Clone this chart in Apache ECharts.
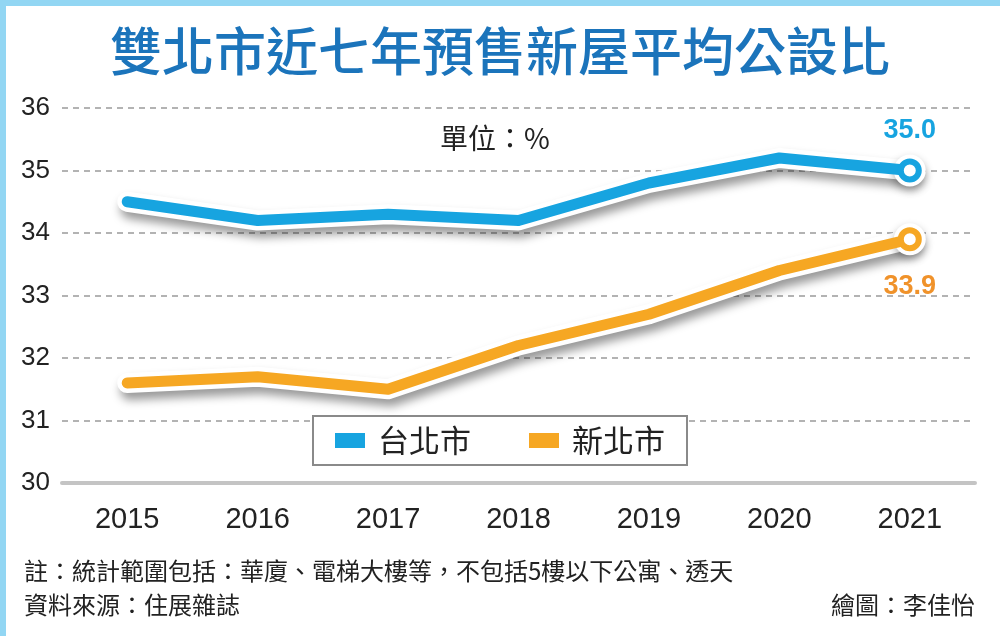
<!DOCTYPE html>
<html>
<head>
<meta charset="utf-8">
<script src="https://cdn.jsdelivr.net/npm/echarts@6/dist/echarts.min.js"></script>
<style>
  html, body { margin: 0; padding: 0; background: #fff; }
  #main { width: 1000px; height: 636px; }
</style>
</head>
<body>
<div id="main"></div>
<script>
var years = ["2015", "2016", "2017", "2018", "2019", "2020", "2021"];
var taipei = [34.5, 34.2, 34.3, 34.2, 34.8, 35.2, 35.0];
var newTaipei = [31.6, 31.7, 31.5, 32.2, 32.7, 33.4, 33.9];
var yTicks = [30, 31, 32, 33, 34, 35, 36];

var BLUE = "#17a4e0";
var ORANGE = "#f6a723";
var LABEL_ORANGE = "#f0922a";
var CJK = "'Noto Sans CJK TC', 'Noto Sans', sans-serif";
var NUM = "'Liberation Sans', Arial, sans-serif";

var chartDom = document.getElementById("main");
var myChart = echarts.init(chartDom);
var last = years.length - 1;

// white outline + soft shadow drawn under each line
function underlay(data) {
  return {
    type: "line",
    data: data,
    silent: true,
    z: 1,
    symbol: function (v, p) { return p.dataIndex === last ? "circle" : "none"; },
    symbolSize: 32,
    itemStyle: { color: "#fff", shadowColor: "rgba(0,0,0,0.3)", shadowBlur: 8, shadowOffsetY: 4 },
    lineStyle: {
      color: "#fff", width: 20, cap: "round", join: "round",
      shadowColor: "rgba(0,0,0,0.4)", shadowBlur: 10, shadowOffsetX: 3, shadowOffsetY: 7
    },
    emphasis: { disabled: true }
  };
}

function mainLine(name, data, color, labelColor, pos) {
  return {
    name: name,
    type: "line",
    data: data,
    z: 3,
    symbol: function (v, p) { return p.dataIndex === last ? "circle" : "none"; },
    symbolSize: 18,
    itemStyle: { color: "#fff", borderColor: color, borderWidth: 6 },
    lineStyle: { color: color, width: 11, cap: "round", join: "round" },
    label: {
      show: true,
      position: pos,
      distance: pos === "top" ? 14 : 22,
      color: labelColor,
      fontFamily: NUM,
      fontWeight: "bold",
      fontSize: 27,
      formatter: function (p) { return p.dataIndex === last ? p.value.toFixed(1) : ""; }
    },
    emphasis: { disabled: true }
  };
}

var option = {
  backgroundColor: "#fff",
  animation: false,
  title: {
    text: "雙北市近七年預售新屋平均公設比",
    left: "center",
    top: 20,
    textStyle: { color: "#1b74bb", fontFamily: CJK, fontWeight: 500, fontSize: 52 }
  },
  legend: {
    data: [
      { name: "台北市", itemStyle: { color: BLUE, borderWidth: 0 } },
      { name: "新北市", itemStyle: { color: ORANGE, borderWidth: 0 } }
    ],
    left: 313,
    top: 416,
    padding: [9, 22],
    itemGap: 58,
    itemWidth: 30,
    itemHeight: 15,
    icon: "rect",
    backgroundColor: "#fff",
    borderColor: "#8a8a8a",
    borderWidth: 2,
    borderRadius: 0,
    z: 10,
    textStyle: { fontFamily: CJK, fontSize: 31, color: "#222", padding: [0, 0, 0, 8] }
  },
  grid: { left: 62, right: 25, top: 108, bottom: 153 },
  xAxis: {
    type: "category",
    data: years,
    boundaryGap: true,
    axisLine: { lineStyle: { color: "#c4c4c4", width: 4 } },
    axisTick: { alignWithLabel: true, length: 9, lineStyle: { color: "#b5b5b5", width: 2 } },
    axisLabel: { margin: 22, fontFamily: NUM, fontSize: 29, color: "#222" }
  },
  yAxis: {
    type: "value",
    min: yTicks[0],
    max: yTicks[yTicks.length - 1],
    interval: 1,
    axisLine: { show: false },
    axisTick: { show: false },
    axisLabel: { margin: 12, fontFamily: NUM, fontSize: 26, color: "#222" },
    splitLine: { lineStyle: { color: "#9a9a9a", type: [6, 5], width: 1.5 } }
  },
  graphic: [
    {
      type: "rect",
      left: 0, top: 0,
      shape: { width: 1000, height: 636 },
      style: { fill: "none", stroke: "#92d6f3", lineWidth: 6 },
      z: 100
    },
    {
      type: "text",
      left: 440, top: 124,
      style: { text: "單位：%", fontFamily: CJK, fontSize: 28, fill: "#222" }
    },
    {
      type: "text",
      left: 24, top: 559,
      style: { text: "註：統計範圍包括：華廈、電梯大樓等，不包括5樓以下公寓、透天", fontFamily: CJK, fontSize: 24, fill: "#222" }
    },
    {
      type: "text",
      left: 24, top: 593,
      style: { text: "資料來源：住展雜誌", fontFamily: CJK, fontSize: 24, fill: "#222" }
    },
    {
      type: "text",
      right: 25, top: 593,
      style: { text: "繪圖：李佳怡", fontFamily: CJK, fontSize: 24, fill: "#222" }
    }
  ],
  series: [
    underlay(taipei),
    underlay(newTaipei),
    mainLine("台北市", taipei, BLUE, BLUE, "top"),
    mainLine("新北市", newTaipei, ORANGE, LABEL_ORANGE, "bottom")
  ]
};

option && myChart.setOption(option);
</script>
</body>
</html>
